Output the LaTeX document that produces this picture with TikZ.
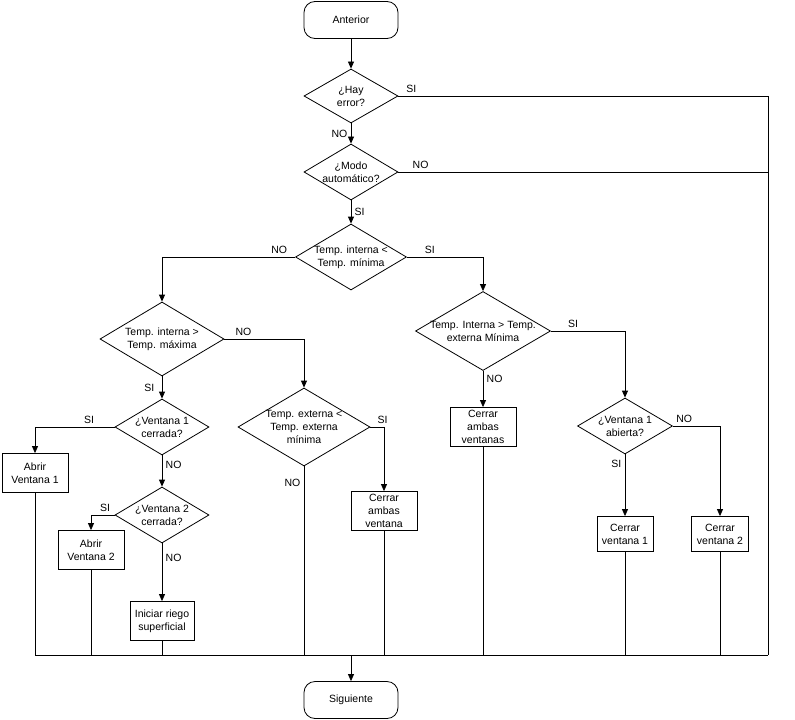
\documentclass[tikz,border=0pt]{standalone}
\usepackage{fontspec}
\setmainfont{Liberation Sans}
\usetikzlibrary{shapes.geometric,arrows.meta}

\begin{document}
\begin{tikzpicture}[x=1pt,y=-1pt,line width=0.8pt,
	>={Triangle[length=7pt,width=6pt]},
	every node/.style={font=\fontsize{10.5}{13}\selectfont},
	terminal/.style={draw,rounded corners=11pt,minimum width=94pt,minimum height=37pt},
	proceso/.style={draw,align=center,inner sep=0.5pt,minimum width=66pt,minimum height=39pt},
	decision/.style={draw,diamond,inner sep=0pt,label={[align=center]center:#1}}]
	\useasboundingbox (0,0) rectangle (795,720);
	% nodos
	\node[terminal] (anterior) at (351,20) {Anterior};
	\node[decision={¿Hay\\error?},minimum width=94pt,minimum height=54pt] (error) at (351,96) {};
	\node[decision={¿Modo\\automático?},minimum width=94pt,minimum height=56pt] (modo) at (351,172) {};
	\node[decision={Temp. interna <\\Temp. mínima},minimum width=111pt,minimum height=66pt] (tmin) at (351,257) {};
	\node[decision={Temp. interna >\\Temp. máxima},minimum width=124pt,minimum height=74pt] (tmax) at (162,339) {};
	\node[decision={¿Ventana 1\\cerrada?},minimum width=94pt,minimum height=56pt] (v1cerr) at (162,427) {};
	\node[decision={¿Ventana 2\\cerrada?},minimum width=94pt,minimum height=56pt] (v2cerr) at (162,515) {};
	\node[decision={Temp. externa <\\Temp. externa\\mínima},minimum width=132pt,minimum height=78pt] (text) at (304,427) {};
	\node[decision={Temp. Interna > Temp.\\externa Mínima},minimum width=135pt,minimum height=79pt] (tint) at (483,331) {};
	\node[decision={¿Ventana 1\\abierta?},minimum width=95pt,minimum height=56pt] (v1abi) at (625,426) {};
	\node[proceso] (abrir1) at (35,473) {Abrir\\Ventana 1};
	\node[proceso] (abrir2) at (91,550) {Abrir\\Ventana 2};
	\node[proceso,minimum width=64pt] (riego) at (162,621) {Iniciar riego\\superficial};
	\node[proceso] (cerrar1) at (384,511) {Cerrar\\ambas\\ventana};
	\node[proceso] (cerrar2) at (483,427) {Cerrar\\ambas\\ventanas};
	\node[proceso,minimum width=56pt,minimum height=35pt] (cv1) at (625,534) {Cerrar\\ventana 1};
	\node[proceso,minimum width=57pt,minimum height=35pt] (cv2) at (720,534) {Cerrar\\ventana 2};
	\node[terminal] (siguiente) at (351,700) {Siguiente};
	\coordinate (busder) at (768,655);
	% conexiones
	\draw[->] (anterior) -- (error);
	\draw[->] (error) -- node[left]{NO} (modo);
	\draw[->] (modo) -- node[right]{SI} (tmin);
	\draw (error.east) -- node[above,pos=0.035]{SI} (error.east -| busder) -- (busder);
	\draw (modo.east) -- node[above,pos=0.06]{NO} (modo.east -| busder);
	\draw[->] (tmin.west) -| node[above,pos=0.06]{NO} (tmax);
	\draw[->] (tmin.east) -| node[above,pos=0.15]{SI} (tint);
	\draw[->] (tmax) -- node[left,xshift=-4pt]{SI} (v1cerr);
	\draw[->] (tmax.east) -| node[above,pos=0.12]{NO} (text);
	\draw[->] (v1cerr.west) -| node[above,pos=0.16]{SI} (abrir1);
	\draw[->] (v1cerr) -- node[right,pos=0.3]{NO} (v2cerr);
	\draw[->] (v2cerr.west) -| node[above,pos=0.2]{SI} (abrir2);
	\draw[->] (v2cerr) -- node[right,pos=0.25]{NO} (riego);
	\draw[->] (text.east) -| node[above,pos=0.45]{SI} (cerrar1);
	\draw (text.south) -- node[left,pos=0.09]{NO} (text.south |- busder);
	\draw[->] (tint) -- node[right,pos=0.22]{NO} (cerrar2);
	\draw[->] (tint.east) -| node[above,pos=0.15]{SI} (v1abi);
	\draw[->] (v1abi.east) -| node[above,pos=0.12]{NO} (cv2);
	\draw[->] (v1abi) -- node[left,pos=0.16]{SI} (cv1);
	% linea inferior
	\draw (abrir1) |- (busder);
	\foreach \n in {abrir2,riego,cerrar1,cerrar2,cv1,cv2}
		\draw (\n) -- (\n |- busder);
	\draw[->] (siguiente |- busder) -- (siguiente);
\end{tikzpicture}
\end{document}
